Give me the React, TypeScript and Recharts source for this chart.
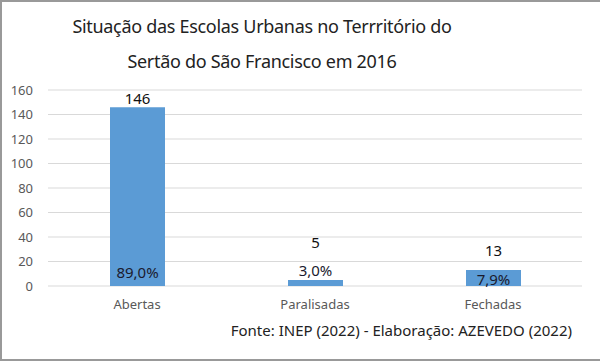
import React from 'react';
import { Bar, BarChart, CartesianGrid, LabelList, XAxis, YAxis } from 'recharts';

const categories = ['Abertas', 'Paralisadas', 'Fechadas'];
const counts = [146, 5, 13];
const shares = ['89,0%', '3,0%', '7,9%'];
const yTicks = [0, 20, 40, 60, 80, 100, 120, 140, 160];

const data = categories.map((name, i) => ({ name, value: counts[i], share: shares[i] }));

// manual label nudges (as in the original spreadsheet chart)
const valueLift = [3, 32, 14];
const shareDrop = [8, 10, 1];

const FONT = '"Noto Sans", sans-serif';

function ValueLabel(props: any) {
  const { x, y, width, index, value } = props;
  return (
    <text x={x + width / 2} y={y - valueLift[index]} textAnchor="middle" fontSize={15} fill="#111" fontFamily={FONT}>
      {value}
    </text>
  );
}

function ShareLabel(props: any) {
  const { x, y, width, height, index, value } = props;
  return (
    <text x={x + width / 2} y={y + height - shareDrop[index]} textAnchor="middle" fontSize={15} fill="#1a1a2e" fontFamily={FONT}>
      {value}
    </text>
  );
}

export default function App() {
  return (
    <div style={{ position: 'absolute', left: 0, top: 0, width: 600, height: 361, background: '#fff', fontFamily: FONT }}>
      <div
        style={{
          position: 'absolute', left: 62, width: 400, top: 9, textAlign: 'center', fontSize: 18, letterSpacing: -0.3,
          lineHeight: '35px', color: '#222', whiteSpace: 'nowrap'
        }}
      >
        Situação das Escolas Urbanas no Terrritório do
        <br />
        Sertão do São Francisco em 2016
      </div>
      <BarChart
        width={600}
        height={361}
        data={data}
        margin={{ top: 90, right: 18, bottom: 45, left: 0 }}
        style={{ position: 'absolute', left: 0, top: 0 }}
      >
        <CartesianGrid vertical={false} stroke="#d9d9d9" />
        <XAxis dataKey="name" height={30} axisLine={false} tickLine={false} tick={{ fill: '#595959', fontSize: 13, fontFamily: FONT }} tickMargin={8} />
        <YAxis width={48} domain={[0, 160]} ticks={yTicks} interval={0} axisLine={false} tickLine={false} tick={{ fill: '#595959', fontSize: 13, fontFamily: FONT }} tickMargin={9} />
        <Bar dataKey="value" fill="#5b9bd5" barSize={55} isAnimationActive={false}>
          <LabelList dataKey="value" content={ValueLabel} />
          <LabelList dataKey="share" content={ShareLabel} />
        </Bar>
      </BarChart>
      <div style={{ position: 'absolute', right: 28, top: 320, fontSize: 15, color: '#222', whiteSpace: 'nowrap' }}>
        Fonte: INEP (2022) - Elaboração: AZEVEDO (2022)
      </div>
      <div
        style={{
          position: 'absolute', left: 0, top: 0, width: 600, height: 361, boxSizing: 'border-box', pointerEvents: 'none',
          borderTop: '2px solid #999', borderLeft: '2px solid #999', borderBottom: '2px solid #999'
        }}
      />
    </div>
  );
}
